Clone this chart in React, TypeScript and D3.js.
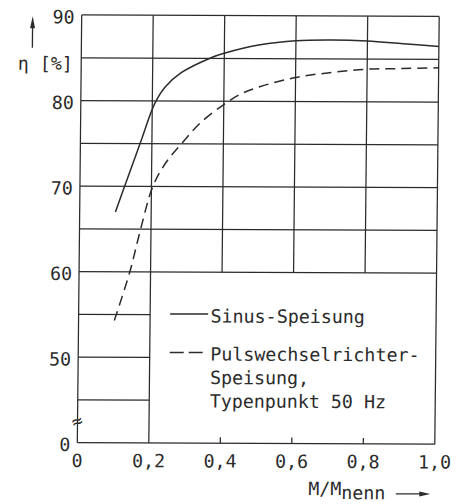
import React from "react";
import * as d3 from "d3";

// Efficiency curves: load ratio M/M_nenn vs. efficiency η in %
const sinusLoad = [0.1, 0.125, 0.167, 0.207, 0.235, 0.28, 0.365, 0.4, 0.5, 0.6, 0.7, 0.8, 0.9, 1.0];
const sinusEta = [67.0, 70, 75, 79.7, 81.6, 83.3, 85.1, 85.6, 86.6, 87.1, 87.2, 87.1, 86.8, 86.5];

const pulsLoad = [0.1, 0.142, 0.171, 0.204, 0.24, 0.283, 0.334, 0.4, 0.45, 0.5, 0.6, 0.7, 0.8, 0.9, 1.0];
const pulsEta = [54.3, 60, 65, 70, 72.8, 75, 77.4, 79.6, 80.9, 81.7, 82.8, 83.4, 83.8, 83.9, 84.0];

// Axis ticks and labels
const xTicks = [0, 0.2, 0.4, 0.6, 0.8, 1.0];
const xTickLabels = ["0", "0,2", "0,4", "0,6", "0,8", "1,0"];
const yLabelValues = [90, 80, 70, 60, 50, 40];
const yTickLabels = ["90", "80", "70", "60", "50", "0"];

// Grid layout
const fullRows = [90, 85, 80, 75, 70, 65, 60, 40];
const shortRows = [55, 50, 45];
const fullCols = [0, 0.2, 1.0];
const upperCols = [0.4, 0.6, 0.8];

const legendLines = ["Pulswechselrichter-", "Speisung,", "Typenpunkt 50 Hz"];

const W = 464;
const H = 504;
const FONT = "'DejaVu Sans Mono', monospace";
const INK = "#2b2b2b";

export default function App() {
  const x = d3.scaleLinear().domain([0, 1]).range([79.5, 437]);
  const y = d3.scaleLinear().domain([40, 90]).range([442.7, 15]);

  const line = d3
    .line<[number, number]>()
    .x((d) => x(d[0]))
    .y((d) => y(d[1]))
    .curve(d3.curveCatmullRom.alpha(0.5));

  const sinusPath = line(sinusLoad.map((v, i) => [v, sinusEta[i]]) as [number, number][]) || "";
  const pulsPath = line(pulsLoad.map((v, i) => [v, pulsEta[i]]) as [number, number][]) || "";

  const gridStroke = { stroke: INK, strokeWidth: 1.25, fill: "none" } as const;

  return (
    <svg
      width={W}
      height={H}
      viewBox={`0 0 ${W} ${H}`}
      style={{ position: "absolute", left: 0, top: 0, background: "#fff" }}
    >
      <rect width={W} height={H} fill="#fff" />
      <g transform="matrix(1,0.0042,-0.0103,1,2.36,-0.34)" fontFamily={FONT} fill={INK}>
        {/* grid */}
        {fullRows.map((v) => (
          <line key={`r${v}`} x1={x(0)} x2={x(1)} y1={y(v)} y2={y(v)} {...gridStroke} />
        ))}
        {shortRows.map((v) => (
          <line key={`s${v}`} x1={x(0)} x2={x(0.2)} y1={y(v)} y2={y(v)} {...gridStroke} />
        ))}
        {fullCols.map((v) => (
          <line key={`c${v}`} x1={x(v)} x2={x(v)} y1={y(40)} y2={y(90)} {...gridStroke} />
        ))}
        {upperCols.map((v) => (
          <g key={`u${v}`}>
            <line x1={x(v)} x2={x(v)} y1={y(60)} y2={y(90)} {...gridStroke} />
            <line x1={x(v)} x2={x(v)} y1={y(40)} y2={y(40) - 6} {...gridStroke} />
          </g>
        ))}

        {/* curves */}
        <path d={sinusPath} fill="none" stroke={INK} strokeWidth={1.5} />
        <path d={pulsPath} fill="none" stroke={INK} strokeWidth={1.5} strokeDasharray="10,6" />

        {/* y tick labels */}
        {yLabelValues.map((v, i) => (
          <text key={`yl${v}`} x={x(0) - 7} y={y(v) + 8.5} fontSize={18.3} textAnchor="end">
            {yTickLabels[i]}
          </text>
        ))}
        {/* axis break */}
        <text
          x={x(0)}
          y={y(42.4) + 5}
          fontSize={18}
          textAnchor="middle"
          transform={`rotate(-20 ${x(0)} ${y(42.4)})`}
        >
          ≈
        </text>

        {/* x tick labels */}
        {xTicks.map((v, i) => (
          <text key={`xl${v}`} x={x(v)} y={467} fontSize={18.3} textAnchor="middle">
            {xTickLabels[i]}
          </text>
        ))}

        {/* y title with arrow */}
        <text x={16} y={70} fontSize={18.3}>
          η [%]
        </text>
        <line x1={30.5} x2={30.5} y1={48} y2={26} stroke={INK} strokeWidth={1.3} />
        <path d="M28,28.5 L30.5,16.5 L33,28.5 Z" fill={INK} />

        {/* x title with arrow */}
        <text x={311} y={494} fontSize={18.3}>
          M/M
          <tspan dy={4}>nenn</tspan>
        </text>
        <line x1={398.5} x2={424} y1={492.5} y2={492.5} stroke={INK} strokeWidth={1.3} />
        <path d="M422,490 L433,492.5 L422,495 Z" fill={INK} />

        {/* legend */}
        <line x1={171} x2={209} y1={313.5} y2={313.5} stroke={INK} strokeWidth={1.5} />
        <text x={211.5} y={322} fontSize={18.3}>
          Sinus-Speisung
        </text>
        <line
          x1={171}
          x2={204.5}
          y1={352}
          y2={352}
          stroke={INK}
          strokeWidth={1.5}
          strokeDasharray="14,5"
        />
        {legendLines.map((t, i) => (
          <text key={t} x={211.5} y={360 + i * 23.5} fontSize={18.3}>
            {t}
          </text>
        ))}
      </g>
    </svg>
  );
}
